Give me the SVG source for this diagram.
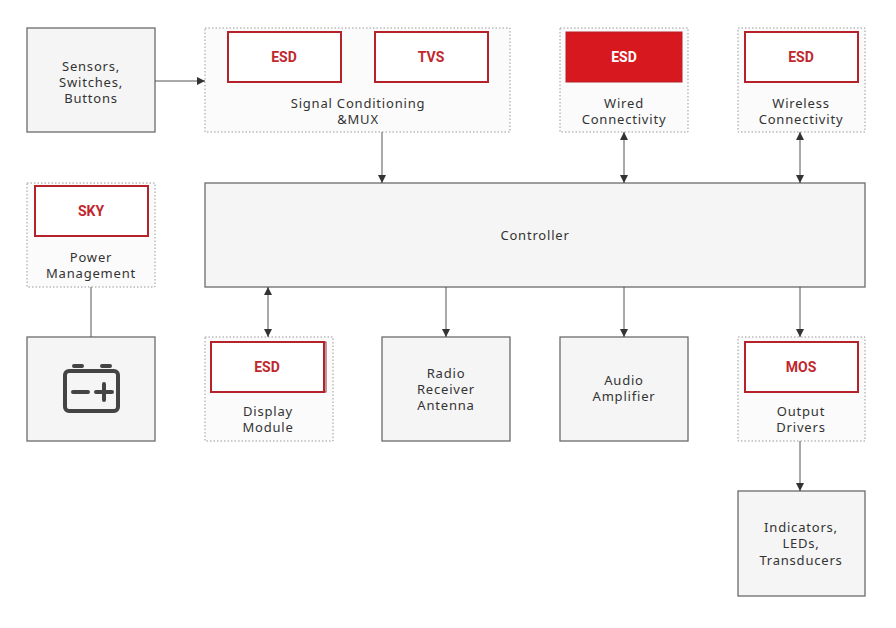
<svg xmlns="http://www.w3.org/2000/svg" width="896" height="628" viewBox="0 0 896 628">
<style>
.box{fill:#f5f5f5;stroke:#6b6b6b;stroke-width:1.3}
.dot{fill:#fbfbfb;stroke:#999;stroke-width:1;stroke-dasharray:1.5 2}
.chip{fill:#fff;stroke:#b5222a;stroke-width:2}
.ct{font-family:Roboto,"Noto Sans",sans-serif;font-weight:bold;font-size:14px;fill:#c0282e;text-anchor:middle}
.t{font-family:"Noto Sans",sans-serif;font-size:13px;fill:#333;text-anchor:middle;letter-spacing:0.8px}
.c{stroke:#555;stroke-width:1;fill:none}
</style>
<defs>
<marker id="a" viewBox="0 0 10 10" refX="10" refY="5" markerWidth="8" markerHeight="8" orient="auto-start-reverse"><path d="M0,0L10,5L0,10z" fill="#333"/></marker>
</defs>
<g id="sensors"><rect class="box" x="27" y="28" width="128" height="104"/><text class="t" x="91" y="71">Sensors,</text><text class="t" x="91" y="87">Switches,</text><text class="t" x="91" y="103">Buttons</text></g>
<g id="signal"><rect class="dot" x="205" y="28" width="305" height="104"/><rect class="chip" x="228" y="32" width="113" height="50"/><text class="ct" x="284" y="62">ESD</text><rect class="chip" x="375" y="32" width="113" height="50"/><text class="ct" x="431" y="62">TVS</text><text class="t" x="358" y="108">Signal Conditioning</text><text class="t" x="358" y="124">&amp;MUX</text></g>
<g id="wired"><rect class="dot" x="560" y="28" width="128" height="104"/><rect x="566" y="32" width="116" height="50" fill="#d7191f" stroke="#b5222a" stroke-width="1"/><text class="ct" x="624" y="62" style="fill:#fff">ESD</text><text class="t" x="624" y="108">Wired</text><text class="t" x="624" y="124">Connectivity</text></g>
<g id="wireless"><rect class="dot" x="738" y="28" width="127" height="104"/><rect class="chip" x="745" y="32" width="113" height="50"/><text class="ct" x="801" y="62">ESD</text><text class="t" x="801" y="108">Wireless</text><text class="t" x="801" y="124">Connectivity</text></g>
<g id="power"><rect class="dot" x="27" y="183" width="128" height="104"/><rect class="chip" x="35" y="186" width="113" height="50"/><text class="ct" x="91" y="216">SKY</text><text class="t" x="91" y="262">Power</text><text class="t" x="91" y="278">Management</text></g>
<g id="controller"><rect class="box" x="205" y="183" width="660" height="104"/><text class="t" x="535" y="240">Controller</text></g>
<g id="battery"><rect class="box" x="27" y="337" width="128" height="104"/><g fill="none" stroke="#444" stroke-width="4" stroke-linecap="round"><rect x="65" y="371" width="53" height="40" rx="4"/><path d="M74,366h8M102,366h8M73,392h15M96,392h16M104,384v16"/></g></g>
<g id="display"><rect class="dot" x="205" y="337" width="128" height="104"/><rect x="211" y="342" width="115" height="50" fill="none" stroke="#7a3b3e" stroke-width="1"/><rect class="chip" x="211" y="342" width="113" height="50"/><text class="ct" x="267" y="372">ESD</text><text class="t" x="268" y="416">Display</text><text class="t" x="268" y="432">Module</text></g>
<g id="radio"><rect class="box" x="382" y="337" width="128" height="104"/><text class="t" x="446" y="378">Radio</text><text class="t" x="446" y="394">Receiver</text><text class="t" x="446" y="410">Antenna</text></g>
<g id="audio"><rect class="box" x="560" y="337" width="128" height="104"/><text class="t" x="624" y="385">Audio</text><text class="t" x="624" y="401">Amplifier</text></g>
<g id="output"><rect class="dot" x="738" y="337" width="127" height="104"/><rect class="chip" x="745" y="342" width="113" height="50"/><text class="ct" x="801" y="372">MOS</text><text class="t" x="801" y="416">Output</text><text class="t" x="801" y="432">Drivers</text></g>
<g id="indicators"><rect class="box" x="738" y="491" width="127" height="105"/><text class="t" x="801" y="532">Indicators,</text><text class="t" x="801" y="548">LEDs,</text><text class="t" x="801" y="565">Transducers</text></g>
<g id="connectors">
<path class="c" d="M155,81H205" marker-end="url(#a)"/>
<path class="c" d="M382,132V183" marker-end="url(#a)"/>
<path class="c" d="M624,132V183" marker-start="url(#a)" marker-end="url(#a)"/>
<path class="c" d="M800,132V183" marker-start="url(#a)" marker-end="url(#a)"/>
<path class="c" d="M91,287V337"/>
<path class="c" d="M268,287V337" marker-start="url(#a)" marker-end="url(#a)"/>
<path class="c" d="M446,287V337" marker-end="url(#a)"/>
<path class="c" d="M624,287V337" marker-end="url(#a)"/>
<path class="c" d="M800,287V337" marker-end="url(#a)"/>
<path class="c" d="M800,441V491" marker-end="url(#a)"/>
</g>
</svg>
